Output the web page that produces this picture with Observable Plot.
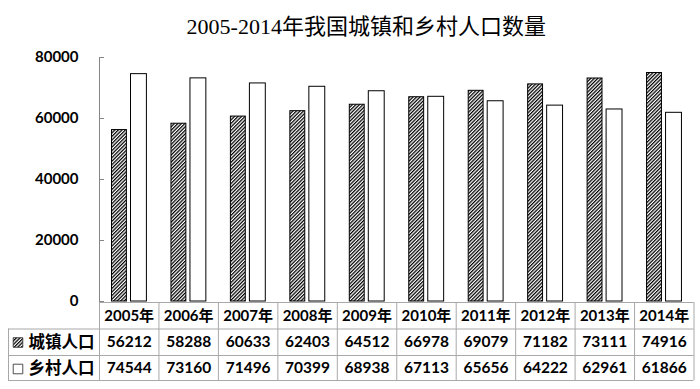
<!DOCTYPE html>
<html>
<head>
<meta charset="utf-8">
<script src="https://cdn.jsdelivr.net/npm/d3@7"></script>
<script src="https://cdn.jsdelivr.net/npm/@observablehq/plot@0.6"></script>
<style>
  html, body { margin: 0; padding: 0; background: #fff; }
</style>
</head>
<body>
<div id="chart"></div>
<script>
const title = "2005-2014年我国城镇和乡村人口数量";
const years = ["2005年","2006年","2007年","2008年","2009年","2010年","2011年","2012年","2013年","2014年"];
const urban = [56212, 58288, 60633, 62403, 64512, 66978, 69079, 71182, 73111, 74916];
const rural = [74544, 73160, 71496, 70399, 68938, 67113, 65656, 64222, 62961, 61866];
const rowLabels = ["城镇人口", "乡村人口"];
const yTicks = [0, 20000, 40000, 60000, 80000];

const rows = years.map((year, i) => ({year, urban: urban[i], rural: rural[i]}));

const W = 700, H = 389, mL = 99, mR = 6.5, mT = 57, mB = 88;
const frameW = W - mL - mR;
const frameH = H - mT - mB;
const step = frameW / years.length;
const axisGray = "#868686";
const gridGray = "#a8a8a8";
const numFont = "Lato, 'Noto Sans CJK SC', sans-serif";
const cjkFont = "'Noto Sans CJK SC', sans-serif";
const txt = {fontWeight: "bold", fontFamily: numFont, fill: "#000", textAnchor: "middle", lineAnchor: "middle"};

const svg = Plot.plot({
  width: W, height: H,
  marginLeft: mL, marginRight: mR, marginTop: mT, marginBottom: mB,
  x: {domain: years, padding: 0, round: false, axis: null},
  y: {domain: [0, 80000], axis: null},
  style: {background: "#fff", color: "#000", fontFamily: numFont, fontWeight: "bold", fontSize: "15px"},
  marks: [
    // y axis
    Plot.axisY(yTicks, {tickSize: 0, tickPadding: 21, tickFormat: "d", fontSize: 15, fontWeight: "bold", fontFamily: numFont, fill: "#000"}),
    Plot.ruleY(yTicks, {y: d => d, insetRight: frameW - 5, stroke: axisGray}),
    Plot.ruleX([years[0]], {x: d => d, dx: -step / 2, stroke: axisGray}),
    // bars
    Plot.barY(rows, {x: "year", y: "urban", fill: "url(#hatch)", stroke: "#000", strokeWidth: 1,
      insetLeft: 12.5, insetRight: step - 27.4}),
    Plot.barY(rows, {x: "year", y: "rural", fill: "#fff", stroke: "#000", strokeWidth: 1,
      insetLeft: 31.5, insetRight: step - 47.4}),
    // data table grid
    Plot.ruleY([0], {y: d => d, dy: 1, stroke: gridGray}),
    Plot.ruleY([0], {y: d => d, dy: 27.5, insetLeft: -91, stroke: gridGray}),
    Plot.ruleY([0], {y: d => d, dy: 54, insetLeft: -91, stroke: gridGray}),
    Plot.ruleY([0], {y: d => d, dy: 79, insetLeft: -91, stroke: gridGray}),
    Plot.ruleX(years, {x: d => d, dx: -step / 2, insetTop: frameH + 1, insetBottom: -79, stroke: gridGray}),
    Plot.ruleX([years[years.length - 1]], {x: d => d, dx: step / 2, insetTop: frameH + 1, insetBottom: -79, stroke: gridGray}),
    Plot.ruleX([years[0]], {x: d => d, dx: -step / 2 - 91, insetTop: frameH + 27.5, insetBottom: -79, stroke: gridGray}),
    // table text
    Plot.text(years, {x: d => d, text: d => d, frameAnchor: "bottom", dy: 14.5, fontSize: 15, ...txt}),
    Plot.text(rows, {x: "year", text: d => String(d.urban), frameAnchor: "bottom", dy: 41, fontSize: 15.5, ...txt}),
    Plot.text(rows, {x: "year", text: d => String(d.rural), frameAnchor: "bottom", dy: 67, fontSize: 15.5, ...txt}),
    Plot.text([rowLabels[0]], {text: d => d, frameAnchor: "bottom-left", dx: -38, dy: 41, fontSize: 16.5, ...txt, fontFamily: cjkFont}),
    Plot.text([rowLabels[1]], {text: d => d, frameAnchor: "bottom-left", dx: -38, dy: 67, fontSize: 16.5, ...txt, fontFamily: cjkFont}),
    // legend keys
    Plot.dot([rowLabels[0]], {frameAnchor: "bottom-left", dx: -81.5, dy: 41, symbol: "square", r: 5.4, fill: "url(#hatch)", stroke: "#222", strokeWidth: 0.8}),
    Plot.dot([rowLabels[1]], {frameAnchor: "bottom-left", dx: -81.5, dy: 67.5, symbol: "square", r: 5.4, fill: "#fff", stroke: "#222", strokeWidth: 0.8}),
    // title
    Plot.text([title], {text: d => d, frameAnchor: "top", dx: -30.5, dy: -31, fontSize: 22, ...txt, fontWeight: "normal",
      fontFamily: "'Liberation Serif', 'Noto Sans CJK SC', serif"})
  ]
});

const defs = d3.select(svg).insert("defs", ":first-child");
const pat = defs.append("pattern")
  .attr("id", "hatch")
  .attr("patternUnits", "userSpaceOnUse")
  .attr("width", 2.5).attr("height", 2.5)
  .attr("patternTransform", "rotate(45)");
pat.append("rect").attr("width", 2.5).attr("height", 2.5).attr("fill", "#fff");
pat.append("rect").attr("x", 0).attr("width", 1.25).attr("height", 2.5).attr("fill", "#000");

document.getElementById("chart").appendChild(svg);
</script>
</body>
</html>
